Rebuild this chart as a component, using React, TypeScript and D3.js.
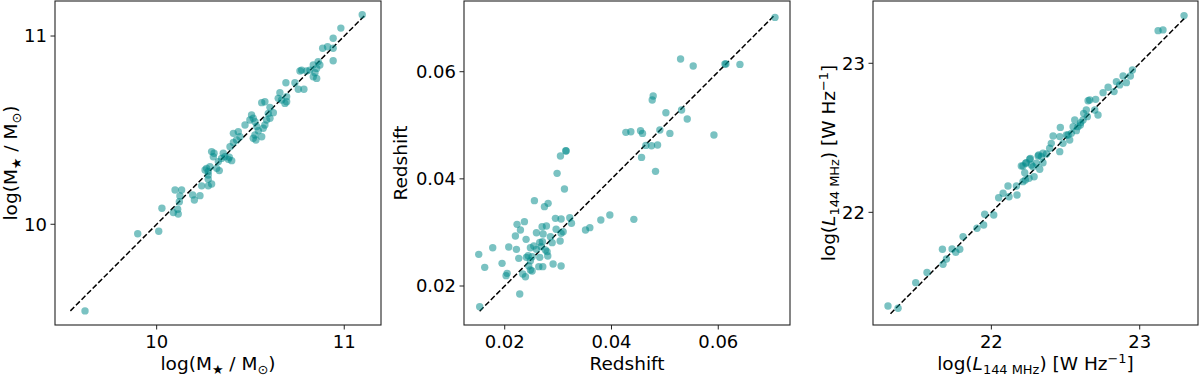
import React from 'react';
import * as d3 from 'd3';

// stellar mass: input vs recovered
const massIn = [9.618, 9.899, 10.011, 10.028, 10.089, 10.115, 10.112, 10.098, 10.133, 10.124,
  10.121, 10.192, 10.201, 10.231, 10.240, 10.275, 10.275, 10.293, 10.266, 10.284,
  10.275, 10.320, 10.334, 10.293, 10.306, 10.302, 10.355, 10.364, 10.387, 10.400,
  10.382, 10.391, 10.409, 10.409, 10.435, 10.444, 10.426, 10.471, 10.506, 10.515,
  10.497, 10.524, 10.533, 10.542, 10.524, 10.529, 10.515, 10.560, 10.568, 10.577,
  10.586, 10.560, 10.577, 10.604, 10.595, 10.622, 10.604, 10.657, 10.648, 10.666,
  10.693, 10.693, 10.684, 10.689, 10.737, 10.755, 10.785, 10.773, 10.764, 10.799,
  10.817, 10.835, 10.844, 10.835, 10.853, 10.853, 10.861, 10.870, 10.885, 10.911,
  10.941, 10.941, 10.941, 10.982, 11.096, 10.275, 10.258, 10.329, 10.346];
const massOut = [9.540, 9.950, 9.963, 10.085, 10.062, 10.055, 10.080, 10.182, 10.182, 10.150,
  10.120, 10.156, 10.129, 10.152, 10.204, 10.204, 10.239, 10.214, 10.297, 10.306,
  10.280, 10.297, 10.285, 10.386, 10.377, 10.359, 10.377, 10.359, 10.356, 10.338,
  10.345, 10.412, 10.434, 10.483, 10.492, 10.465, 10.448, 10.527, 10.581, 10.563,
  10.554, 10.545, 10.519, 10.497, 10.474, 10.448, 10.457, 10.465, 10.510, 10.527,
  10.554, 10.646, 10.651, 10.621, 10.589, 10.593, 10.563, 10.699, 10.669, 10.660,
  10.678, 10.651, 10.642, 10.752, 10.752, 10.717, 10.717, 10.819, 10.814, 10.814,
  10.819, 10.846, 10.805, 10.784, 10.775, 10.828, 10.864, 10.846, 10.935, 10.943,
  10.935, 10.869, 10.988, 11.042, 11.113, 10.262, 10.288, 10.333, 10.350];

// redshift
const zIn = [0.07063, 0.05294, 0.05531, 0.06144, 0.06406, 0.04781, 0.04763, 0.05019, 0.05313, 0.05419,
  0.05919, 0.04269, 0.04363, 0.04544, 0.04581, 0.04906, 0.05094, 0.04644, 0.04750, 0.04863,
  0.04563, 0.04825, 0.03969, 0.03800, 0.04419, 0.01531, 0.02281, 0.01513, 0.01625, 0.01775,
  0.01950, 0.02044, 0.02025, 0.02075, 0.02219, 0.02231, 0.02369, 0.02294, 0.02200, 0.02400,
  0.02556, 0.02744, 0.02813, 0.02594, 0.02700, 0.02781, 0.02719, 0.02950, 0.03056, 0.02981,
  0.03044, 0.03150, 0.03119, 0.03219, 0.03250, 0.02963, 0.03056, 0.03094, 0.03038, 0.02888,
  0.02856, 0.02481, 0.02544, 0.02594, 0.02656, 0.02706, 0.02681, 0.02263, 0.02406, 0.02438,
  0.02481, 0.02513, 0.02450, 0.02481, 0.02513, 0.02388, 0.02338, 0.02638, 0.02713, 0.02656,
  0.02763, 0.02806, 0.02794, 0.02906, 0.03056, 0.03513, 0.03594, 0.06125, 0.03144];
const zOut = [0.07014, 0.06236, 0.06106, 0.06143, 0.06137, 0.05546, 0.05471, 0.05235, 0.05285, 0.05117,
  0.04818, 0.04868, 0.04880, 0.04899, 0.04849, 0.04911, 0.04849, 0.04625, 0.04619, 0.04631,
  0.04401, 0.04140, 0.03325, 0.03232, 0.03244, 0.01614, 0.01851, 0.02591, 0.02348, 0.02715,
  0.02423, 0.02236, 0.02193, 0.02728, 0.02684, 0.03151, 0.03201, 0.03045, 0.02933, 0.02871,
  0.03593, 0.03481, 0.03543, 0.02995, 0.03107, 0.03120, 0.02970, 0.03263, 0.03250, 0.04103,
  0.04426, 0.04519, 0.03810, 0.03275, 0.03170, 0.03058, 0.02983, 0.03014, 0.02840, 0.02809,
  0.02921, 0.02715, 0.02747, 0.02684, 0.02815, 0.02827, 0.02734, 0.02516, 0.02535, 0.02566,
  0.02473, 0.02547, 0.02373, 0.02299, 0.02280, 0.02174, 0.02224, 0.02361, 0.02361, 0.02535,
  0.02672, 0.02560, 0.02641, 0.02411, 0.02373, 0.03045, 0.03089, 0.06143, 0.04526];

// 144 MHz luminosity
const lumIn = [21.303, 21.371, 21.490, 21.566, 21.670, 21.697, 21.674, 21.735, 21.760, 21.787,
  21.809, 21.903, 21.948, 21.955, 22.016, 22.049, 22.079, 22.112, 22.119, 22.173,
  22.169, 22.213, 22.229, 22.202, 22.236, 22.263, 22.270, 22.288, 22.326, 22.319,
  22.348, 22.225, 23.299, 23.124, 23.157, 22.951, 22.937, 22.910, 22.888, 22.865,
  22.843, 22.827, 22.787, 22.753, 22.719, 22.697, 22.703, 22.652, 22.640, 22.663,
  22.647, 22.618, 22.602, 22.584, 22.573, 22.562, 22.539, 22.551, 22.465, 22.416,
  22.461, 22.483, 22.461, 22.528, 22.517, 22.404, 22.393, 22.348, 22.371, 22.337,
  22.315, 22.303, 22.258, 22.231, 22.213, 22.281, 22.506, 22.600, 22.622, 22.254];
const lumOut = [21.371, 21.356, 21.528, 21.597, 21.752, 21.687, 21.651, 21.754, 21.732, 21.752,
  21.837, 21.893, 21.915, 21.987, 21.982, 22.098, 22.128, 22.177, 22.105, 22.116,
  22.177, 22.206, 22.217, 22.311, 22.333, 22.362, 22.318, 22.239, 22.289, 22.385,
  22.333, 22.266, 23.320, 23.219, 23.224, 22.955, 22.915, 22.870, 22.915, 22.855,
  22.877, 22.810, 22.839, 22.803, 22.653, 22.687, 22.758, 22.749, 22.687, 22.754,
  22.642, 22.620, 22.602, 22.575, 22.548, 22.620, 22.530, 22.575, 22.570, 22.512,
  22.508, 22.463, 22.407, 22.485, 22.519, 22.463, 22.430, 22.396, 22.391, 22.374,
  22.378, 22.329, 22.356, 22.329, 22.311, 22.306, 22.519, 22.586, 22.664, 22.228];

const massTicks = [10, 11];
const zTicks = [0.02, 0.04, 0.06];
const lumTicks = [22, 23];

// 1:1 line ends
const massLine = [9.54, 11.11];
const zLine = [0.0153, 0.0705];
const lumLine = [21.32, 23.31];

const FONT = 'DejaVu Sans, sans-serif';
const TOP = 1, BOTTOM = 325;

const Panel = ({ left, right, xs, ys, xDomain, yDomain, ticks, fmt, line, xLabel, yLabel, yLabelOffset }) => {
  const x = d3.scaleLinear().domain(xDomain).range([left, right]);
  const y = d3.scaleLinear().domain(yDomain).range([BOTTOM, TOP]);
  const mid = (left + right) / 2;
  return (
    <g>
      <path d={d3.line()(line.map(v => [x(v), y(v)]))} stroke="#000" strokeWidth={1.5}
        strokeDasharray="5.5,2.4" fill="none" />
      {xs.map((v, i) => (
        <circle key={i} cx={x(v)} cy={y(ys[i])} r={3.7} fill="darkcyan" fillOpacity={0.52} />
      ))}
      <rect x={left} y={TOP} width={right - left} height={BOTTOM - TOP} fill="none" stroke="#222" strokeWidth={1.1} />
      {ticks.map(t => (
        <g key={'x' + t}>
          <line x1={x(t)} x2={x(t)} y1={BOTTOM} y2={BOTTOM + 4.5} stroke="#222" />
          <text x={x(t)} y={348} textAnchor="middle" fontSize={18} fontFamily={FONT}>{fmt(t)}</text>
        </g>
      ))}
      {ticks.map(t => (
        <g key={'y' + t}>
          <line x1={left - 4.5} x2={left} y1={y(t)} y2={y(t)} stroke="#222" />
          <text x={left - 8} y={y(t)} dy="0.36em" textAnchor="end" fontSize={18} fontFamily={FONT}>{fmt(t)}</text>
        </g>
      ))}
      <text x={mid} y={370} textAnchor="middle" fontSize={18.5} fontFamily={FONT}>{xLabel}</text>
      <text transform={`translate(${left - yLabelOffset},${(TOP + BOTTOM) / 2}) rotate(-90)`}
        textAnchor="middle" fontSize={18.5} fontFamily={FONT}>{yLabel}</text>
    </g>
  );
};

const massLabel = [
  <tspan key="a">log(M</tspan>,
  <tspan key="b" fontSize="0.7em" dy={4}>★</tspan>,
  <tspan key="c" dy={-4}> / M</tspan>,
  <tspan key="d" fontSize="0.7em" dy={4}>⊙</tspan>,
  <tspan key="e" dy={-4}>)</tspan>
];

const lumLabel = [
  <tspan key="a">log(</tspan>,
  <tspan key="b" fontStyle="italic">L</tspan>,
  <tspan key="c" fontSize="0.7em" dy={4}>144 MHz</tspan>,
  <tspan key="d" dy={-4}>) [W Hz</tspan>,
  <tspan key="e" fontSize="0.7em" dy={-7}>−1</tspan>,
  <tspan key="f" dy={7}>]</tspan>
];

const App = () => {
  const intFmt = d3.format('d');
  const zFmt = d3.format('.2f');
  return (
    <div style={{ position: 'absolute', left: 0, top: 0 }}>
      <svg width={1200} height={378} style={{ display: 'block', background: '#fff' }}>
        <Panel left={55} right={381} xs={massIn} ys={massOut}
          xDomain={[9.458, 11.196]} yDomain={[9.465, 11.186]}
          ticks={massTicks} fmt={intFmt} line={massLine}
          xLabel={massLabel} yLabel={massLabel} yLabelOffset={38} />
        <Panel left={464} right={790} xs={zIn} ys={zOut}
          xDomain={[0.01237, 0.07344]} yDomain={[0.01272, 0.0732]}
          ticks={zTicks} fmt={zFmt} line={zLine}
          xLabel="Redshift" yLabel="Redshift" yLabelOffset={57} />
        <Panel left={873} right={1198} xs={lumIn} ys={lumOut}
          xDomain={[21.202, 23.393]} yDomain={[21.244, 23.418]}
          ticks={lumTicks} fmt={intFmt} line={lumLine}
          xLabel={lumLabel} yLabel={lumLabel} yLabelOffset={38} />
      </svg>
    </div>
  );
};

export default App;
